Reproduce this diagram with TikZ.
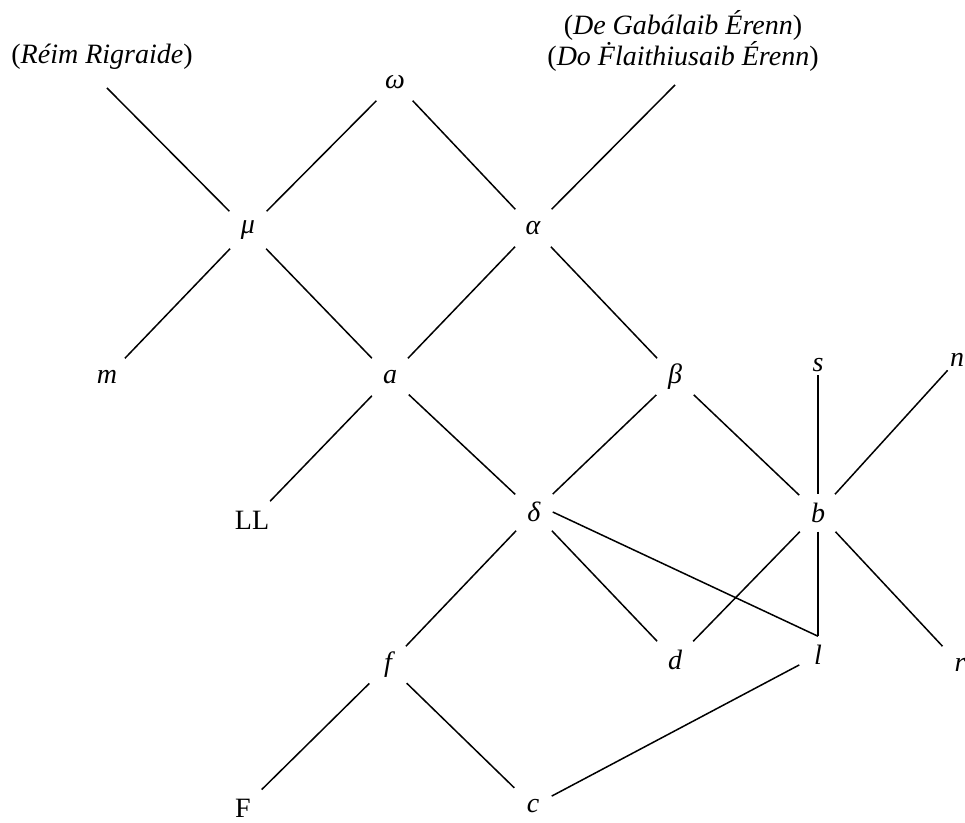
\documentclass[tikz,border=0pt]{standalone}
\usepackage{fontspec}
\setmainfont{Liberation Serif}
\begin{document}
\begin{tikzpicture}[x=0.5pt,y=-0.5pt,line width=0.75pt,
		ms/.style={rectangle, inner sep=0pt, minimum width=18pt, minimum height=18pt, font=\fontsize{14}{16}\selectfont\itshape},
		leaf/.style={ms, minimum width=0pt, minimum height=0pt, inner sep=1.5pt},
		src/.style={align=center, inner sep=1pt, font=\fontsize{14}{15.5}\selectfont}]
	\useasboundingbox (0,0) rectangle (965,823);
	% sources
	\node [src] (rrtext) at (102,57) {(\textit{Réim Rigraide})};
	\node [src] (dgtext) at (683,41) {(\textit{De Gabálaib Érenn})\\(\textit{Do Ḟlaithiusaib Érenn})};
	\coordinate (rr) at (107,88);
	\coordinate (dg) at (675,85);
	% manuscripts
	\node [ms] (omega) at (395,82) {ω};
	\node [ms] (mu) at (248,230) {μ};
	\node [ms] (alpha) at (533,228) {α};
	\node [ms] (m) at (107,377) {m};
	\node [ms] (a) at (390,377) {a};
	\node [ms] (beta) at (675,377) {β};
	\node [leaf] (s) at (818,365) {s};
	\node [leaf] (n) at (957,360) {n};
	\node [ms] (LL) at (252,520) {\upshape LL};
	\node [ms] (delta) at (534,512) {δ};
	\node [ms] (b) at (818,513) {b};
	\node [ms] (f) at (388,665) {f};
	\node [ms] (d) at (675,660) {d};
	\node [ms] (l) at (818,655) {l};
	\node [ms] (r) at (960,665) {r};
	\node [ms] (F) at (243,808) {\upshape F};
	\node [ms] (c) at (533,806) {c};
	% stemma
	\draw (rr) to (mu);
	\draw (mu) to (omega);
	\draw (omega) to (alpha);
	\draw (alpha) to (dg);
	\draw (mu) to (m);
	\draw (mu) to (a);
	\draw (alpha) to (a);
	\draw (alpha) to (beta);
	\draw (a) to (LL);
	\draw (a) to (delta);
	\draw (beta) to (delta);
	\draw (beta) to (b);
	\draw (s) to (b);
	\draw (n) to (b);
	\draw (delta) to (f);
	\draw (delta) to (d);
	\draw (delta.east) to (l.north);
	\draw (b) to (d);
	\draw (b) to (l.north);
	\draw (b) to (r);
	\draw (f) to (F);
	\draw (f) to (c);
	\draw (l) to (c);
\end{tikzpicture}
\end{document}
